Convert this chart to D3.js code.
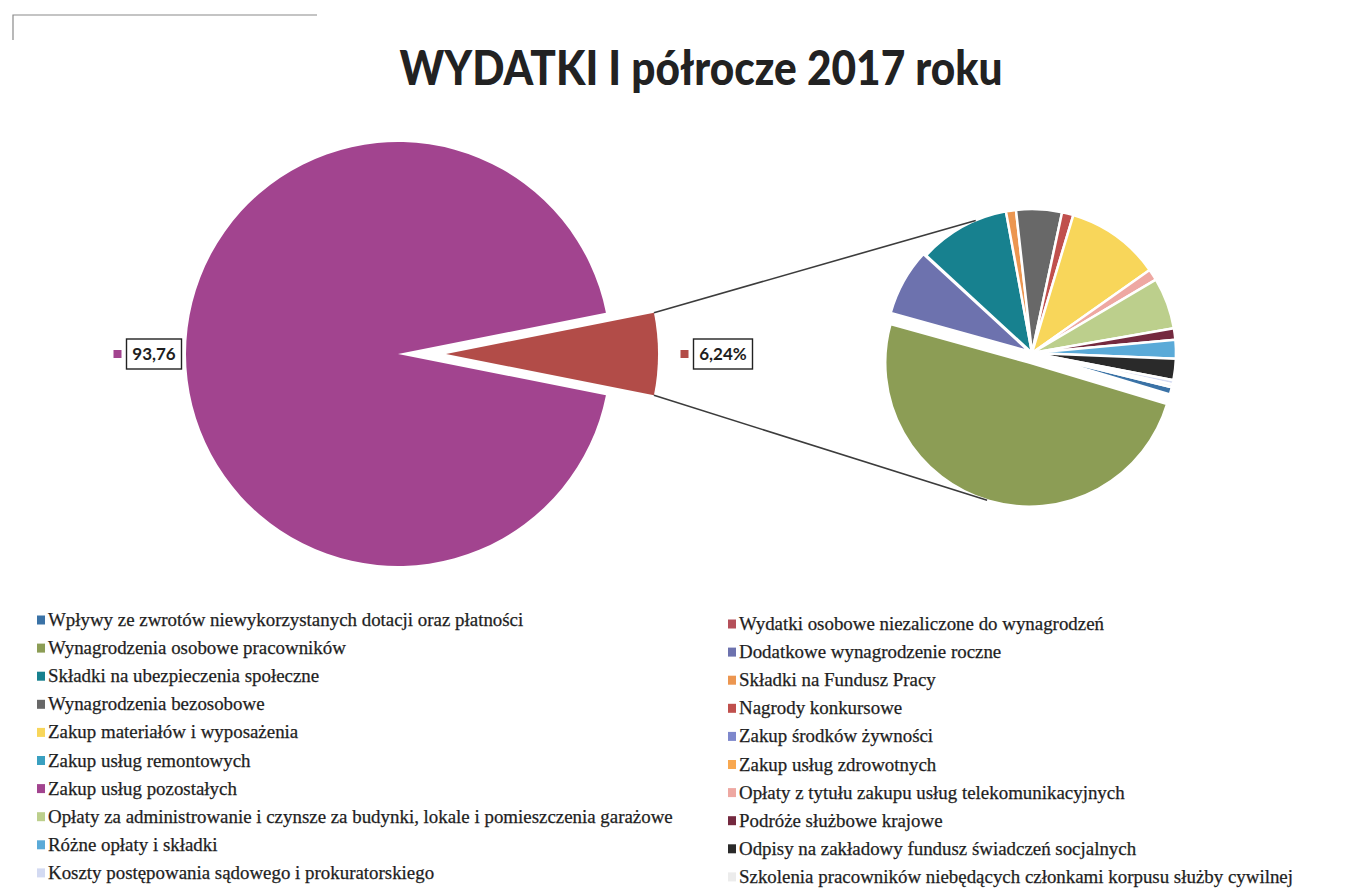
<!DOCTYPE html>
<html>
<head>
<meta charset="utf-8">
<script src="https://cdnjs.cloudflare.com/ajax/libs/d3/7.8.5/d3.min.js"></script>
<style>
body { margin: 0; background: #fff; }
.chartTitle { font-family: Lato, sans-serif; font-weight: 900; fill: #222; }
.legendText { font-family: 'Liberation Serif', serif; font-size: 18.9px; fill: #1e1e1e; stroke: #1e1e1e; stroke-width: 0.25px; }
.valueLabel { font-family: Lato, sans-serif; font-weight: bold; font-size: 17px; fill: #1e1e1e; }
</style>
</head>
<body>
<svg id="chartSVG" width="1354" height="890"></svg>
<script>
// expense categories, in budget order (legend goes row by row, two columns)
var categories = [
	'Wpływy ze zwrotów niewykorzystanych dotacji oraz płatności',
	'Wydatki osobowe niezaliczone do wynagrodzeń',
	'Wynagrodzenia osobowe pracowników',
	'Dodatkowe wynagrodzenie roczne',
	'Składki na ubezpieczenia społeczne',
	'Składki na Fundusz Pracy',
	'Wynagrodzenia bezosobowe',
	'Nagrody konkursowe',
	'Zakup materiałów i wyposażenia',
	'Zakup środków żywności',
	'Zakup usług remontowych',
	'Zakup usług zdrowotnych',
	'Zakup usług pozostałych',
	'Opłaty z tytułu zakupu usług telekomunikacyjnych',
	'Opłaty za administrowanie i czynsze za budynki, lokale i pomieszczenia garażowe',
	'Podróże służbowe krajowe',
	'Różne opłaty i składki',
	'Odpisy na zakładowy fundusz świadczeń socjalnych',
	'Koszty postępowania sądowego i prokuratorskiego',
	'Szkolenia pracowników niebędących członkami korpusu służby cywilnej'
]

// share of total spending, %
var shares = [0.05, 0, 3.10, 0.47, 0.64, 0.07, 0.32, 0.08, 0.66, 0, 0, 0,
	93.76, 0.08, 0.36, 0.08, 0.13, 0.15, 0.03, 0.02]

var colors = ['#3a72a6', '#b5505a', '#8c9d55', '#6d72ae', '#17818f', '#ec9650',
	'#686868', '#c0504d', '#f8d65a', '#7e88cc', '#3aa0c0', '#f8a850',
	'#a2448f', '#eea8a2', '#bccf8c', '#74293f', '#5aaad8', '#2a2a2a',
	'#d3daf2', '#ececec']

// main pie: the big item and the rest (labels in the same order: rest, big item)
var mainIndex = 12
var mainLabels = ['6,24%', '93,76']

var svg = d3.select('#chartSVG')

// bits of the scanned frame
svg.append('path')
.attr('d', 'M13,40 L13,15 L317,15')
.attr('fill', 'none')
.attr('stroke', '#8a8a8a')
.attr('stroke-width', 1.2)

svg.append('text')
.attr('class', 'chartTitle')
.attr('x', 701)
.attr('y', 85)
.attr('text-anchor', 'middle')
.attr('font-size', 47)
.attr('textLength', 603)
.attr('lengthAdjust', 'spacingAndGlyphs')
.text('WYDATKI I półrocze 2017 roku')

// ---------- main pie ----------
var cx = 398, cy = 354, R = 212, explode = 48
var otherShare = d3.sum(shares.filter(function(d, i) { return i != mainIndex }))
var mainData = [otherShare, shares[mainIndex]]
var mainColors = ['#b24c48', colors[mainIndex]]
var otherHalf = otherShare / 100 * Math.PI
var mainPie = d3.pie().sort(null)
	.startAngle(Math.PI / 2 - otherHalf)
	.endAngle(Math.PI / 2 - otherHalf + 2 * Math.PI)
var mainArcs = mainPie(mainData)
var mainArc = d3.arc().innerRadius(0).outerRadius(R)

var mainG = svg.append('g').attr('transform', 'translate(' + cx + ',' + cy + ')')
mainG.selectAll('path')
.data(mainArcs)
.enter()
.append('path')
.attr('d', mainArc)
.attr('fill', function(d, i) { return mainColors[i] })
.attr('transform', function(d, i) {
	if (i != 0) return null
	var a = (d.startAngle + d.endAngle) / 2
	return 'translate(' + (explode * Math.sin(a)) + ',' + (-explode * Math.cos(a)) + ')'
})

// ---------- secondary pie ----------
var sx = 1032, sy = 353, r = 144
var subIdx = d3.range(categories.length).filter(function(i) { return i != mainIndex })
var subPie = d3.pie().sort(null)
	.value(function(i) { return shares[i] })
	.startAngle(103.8 * Math.PI / 180)
	.endAngle(103.8 * Math.PI / 180 + 2 * Math.PI)
var subArcs = subPie(subIdx)
var subArc = d3.arc().innerRadius(0).outerRadius(r)
var subExplode = { 2: 10, 3: 3 }

var subG = svg.append('g').attr('transform', 'translate(' + sx + ',' + sy + ')')
subG.selectAll('path')
.data(subArcs.filter(function(d) { return d.value > 0 }))
.enter()
.append('path')
.attr('d', subArc)
.attr('fill', function(d) { return colors[d.data] })
.attr('stroke', '#fff')
.attr('stroke-width', 2.5)
.attr('stroke-linejoin', 'round')
.attr('transform', function(d) {
	var e = subExplode[d.data] || 0
	var a = (d.startAngle + d.endAngle) / 2
	return 'translate(' + (e * Math.sin(a)) + ',' + (-e * Math.cos(a)) + ')'
})

// connector lines from the "rest" slice to the secondary pie
var rest = mainArcs[0]
var ex = cx + explode, ey = cy
var olive = subArcs.filter(function(d) { return d.data == 2 })[0]
var oa = (olive.startAngle + olive.endAngle) / 2
function onCircle(x0, y0, rad, deg) {
	var a = deg * Math.PI / 180
	return [x0 + rad * Math.sin(a), y0 - rad * Math.cos(a)]
}
var lines = [
	[onCircle(ex, ey, R, rest.startAngle * 180 / Math.PI), onCircle(sx, sy, r, -23)],
	[onCircle(ex, ey, R, rest.endAngle * 180 / Math.PI),
		onCircle(sx + 10 * Math.sin(oa), sy - 10 * Math.cos(oa), r, 197)]
]
svg.selectAll('line.connector')
.data(lines)
.enter()
.append('line')
.attr('class', 'connector')
.attr('x1', function(d) { return d[0][0] })
.attr('y1', function(d) { return d[0][1] })
.attr('x2', function(d) { return d[1][0] })
.attr('y2', function(d) { return d[1][1] })
.attr('stroke', '#3c3c3c')
.attr('stroke-width', 1.6)

// ---------- value labels ----------
var labelPos = [
	{ x: ex + R + 65, y: cy, w: 59, color: mainColors[0] },
	{ x: cx - R - 32, y: cy, w: 55, color: mainColors[1] }
]
var lab = svg.selectAll('g.valueBox')
.data(labelPos)
.enter()
.append('g')
.attr('class', 'valueBox')
.attr('transform', function(d) { return 'translate(' + d.x + ',' + d.y + ')' })

lab.append('rect')
.attr('x', function(d) { return -d.w / 2 })
.attr('y', -15)
.attr('width', function(d) { return d.w })
.attr('height', 30)
.attr('fill', '#fff')
.attr('stroke', '#222')
.attr('stroke-width', 1.4)

lab.append('rect')
.attr('x', function(d) { return -d.w / 2 - 13 })
.attr('y', -4)
.attr('width', 8)
.attr('height', 8)
.attr('fill', function(d) { return d.color })

lab.append('text')
.attr('class', 'valueLabel')
.attr('text-anchor', 'middle')
.attr('y', 6)
.text(function(d, i) { return mainLabels[i] })

// ---------- legend ----------
var legend = svg.append('g').attr('id', 'legend')
var item = legend.selectAll('g')
.data(categories)
.enter()
.append('g')
.attr('transform', function(d, i) {
	var col = i % 2, row = Math.floor(i / 2)
	var x = col ? 728 : 37
	var y = (col ? 624 : 620) + row * 28.1
	return 'translate(' + x + ',' + y + ')'
})

item.append('rect')
.attr('x', 0)
.attr('y', -4.5)
.attr('width', 8)
.attr('height', 9)
.attr('fill', function(d, i) { return colors[i] })

item.append('text')
.attr('class', 'legendText')
.attr('x', 11)
.attr('y', 6)
.text(function(d) { return d })
</script>
</body>
</html>
